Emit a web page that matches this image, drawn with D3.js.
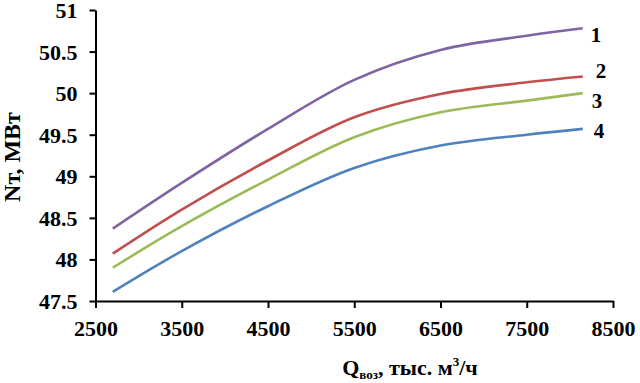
<!DOCTYPE html>
<html>
<head>
<meta charset="utf-8">
<script src="https://cdn.jsdelivr.net/npm/d3@7"></script>
<style>
  html, body { margin: 0; padding: 0; background: #fff; }
  svg text { font-family: "Liberation Serif", "Times New Roman", serif; font-weight: bold; fill: #000; }
</style>
</head>
<body>
<div id="chart"></div>
<script>
// flow of air, thousand m3/h
const xValues = [2700, 3500, 4500, 5500, 6500, 7500, 8150]
// power, MW, one array per curve
const curve1 = [48.37, 48.92, 49.57, 50.16, 50.52, 50.69, 50.78]
const curve2 = [48.07, 48.60, 49.19, 49.71, 49.99, 50.13, 50.20]
const curve3 = [47.90, 48.40, 48.96, 49.47, 49.77, 49.91, 50.00]
const curve4 = [47.61, 48.10, 48.64, 49.10, 49.37, 49.50, 49.57]
const curveNames = ['1', '2', '3', '4']
const xTicks = [2500, 3500, 4500, 5500, 6500, 7500, 8500]
const yTicks = [47.5, 48, 48.5, 49, 49.5, 50, 50.5, 51]

const colors = ['#8064A2', '#C0504D', '#9BBB59', '#4F81BD']
// label offsets from the curve end, px
const labelDx = [8, 13, 9, 11]
const labelDy = [14, 1, 15, 9]

const width = 640
const height = 383

const svg = d3.select('#chart').append('svg')
    .attr('width', width)
    .attr('height', height)

const xScale = d3.scaleLinear()
    .domain([2500, 8500])
    .range([95.5, 613])

const yScale = d3.scaleLinear()
    .domain([47.5, 51])
    .range([301, 10])

const xAxis = d3.axisBottom(xScale)
    .tickValues(xTicks)
    .tickSize(7)
    .tickSizeOuter(0)
    .tickPadding(12)
    .tickFormat(d3.format('d'))

const yAxis = d3.axisLeft(yScale)
    .tickValues(yTicks)
    .tickSize(6)
    .tickSizeOuter(0)
    .tickPadding(12)
    .tickFormat(d => String(d))

const xAxisG = svg.append('g')
    .attr('transform', `translate(0,${yScale(47.5)})`)
    .call(xAxis)

const yAxisG = svg.append('g')
    .attr('transform', `translate(${xScale(2500)},0)`)
    .call(yAxis)

for (const g of [xAxisG, yAxisG]) {
    g.select('.domain').attr('stroke', '#000').attr('stroke-width', 2)
    g.selectAll('.tick line').attr('stroke', '#000').attr('stroke-width', 2)
    g.selectAll('.tick text')
        .attr('fill', '#000')
        .style('font-size', '22px')
        .style('font-family', '"Liberation Serif", serif')
        .style('font-weight', 'bold')
}
yAxisG.selectAll('.tick text').attr('dy', '0.34em')

// curves
const series = [curve1, curve2, curve3, curve4].map((vals, i) => ({
    name: curveNames[i],
    points: xValues.map((x, j) => ({ x: x, y: vals[j] }))
}))

const line = d3.line()
    .x(d => xScale(d.x))
    .y(d => yScale(d.y))
    .curve(d3.curveCatmullRom.alpha(0.5))

svg.append('g').selectAll('path')
    .data(series)
    .join('path')
    .attr('d', d => line(d.points))
    .attr('fill', 'none')
    .attr('stroke', (_, i) => colors[i])
    .attr('stroke-width', 2.6)

svg.append('g').selectAll('text')
    .data(series)
    .join('text')
    .attr('x', (d, i) => xScale(d.points[d.points.length - 1].x) + labelDx[i])
    .attr('y', (d, i) => yScale(d.points[d.points.length - 1].y) + labelDy[i])
    .style('font-size', '21px')
    .text(d => d.name)

// axis titles
svg.append('text')
    .attr('transform', `translate(20,157) rotate(-90)`)
    .attr('text-anchor', 'middle')
    .style('font-size', '24px')
    .text('Nт, МВт')

const xTitle = svg.append('text')
    .attr('x', 410)
    .attr('y', 375)
    .attr('text-anchor', 'middle')
    .style('font-size', '22px')
xTitle.append('tspan').text('Q')
xTitle.append('tspan').attr('dy', 4).style('font-size', '13px').text('воз')
xTitle.append('tspan').attr('dy', -4).text(', тыс. м')
xTitle.append('tspan').attr('dy', -9).style('font-size', '13px').text('3')
xTitle.append('tspan').attr('dy', 9).text('/ч')
</script>
</body>
</html>
